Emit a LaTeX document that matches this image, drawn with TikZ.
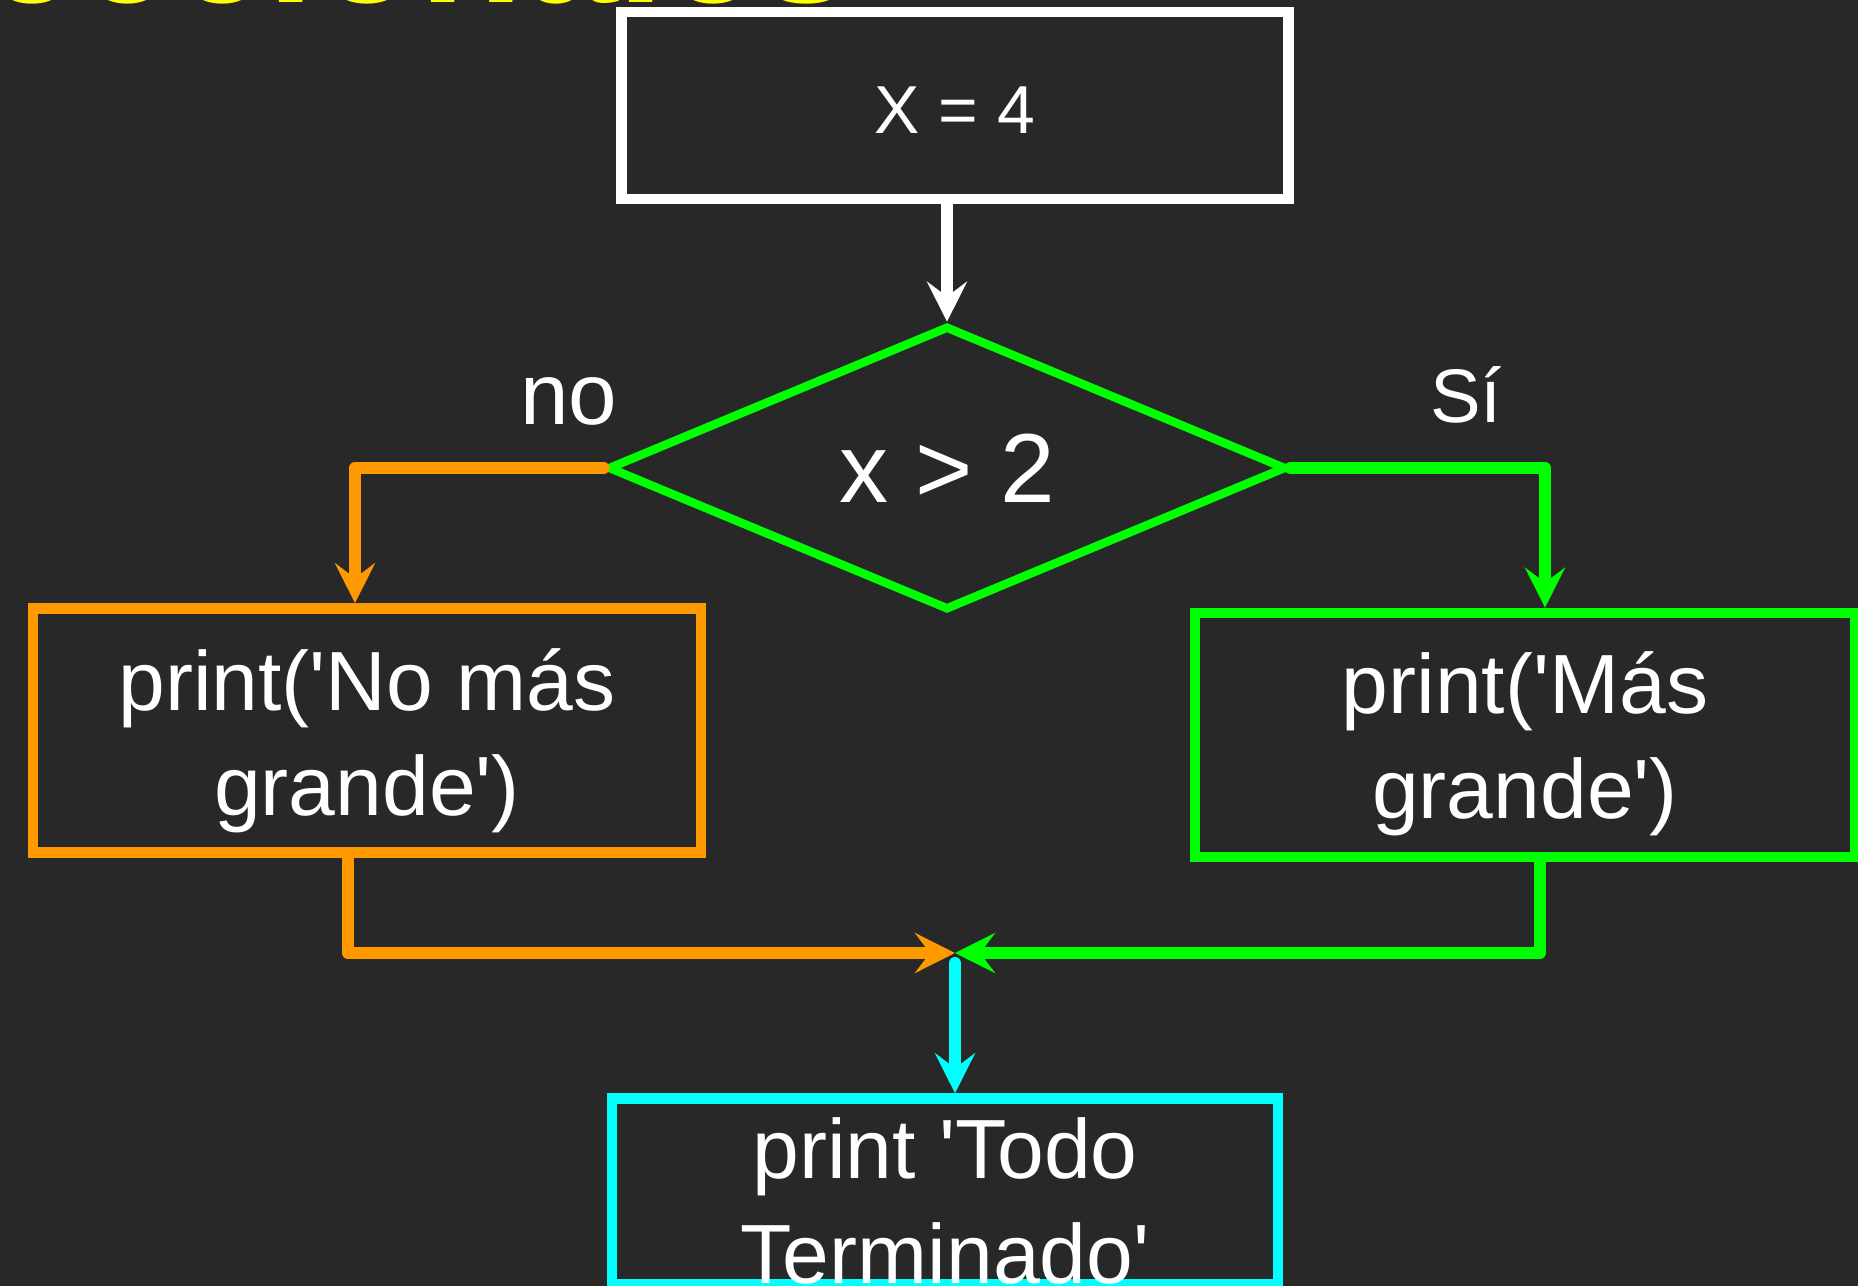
\documentclass[tikz,border=0pt]{standalone}
\usepackage{fontspec}
\setmainfont{Liberation Sans}[Ligatures=TeXOff]
\usetikzlibrary{shapes.geometric,arrows.meta}
\definecolor{fondo}{HTML}{282828}
\definecolor{verde}{HTML}{00FF00}
\definecolor{naranja}{HTML}{FF9900}
\definecolor{cian}{HTML}{00FFFF}
\definecolor{amarillo}{HTML}{FFFF00}
\begin{document}
\begin{tikzpicture}[x=0.01cm, y=-0.01cm,
  every node/.style={text=white, inner sep=0pt},
  box/.style={draw, line width=0.105cm, minimum width=6.68cm, minimum height=2.44cm, align=center, font=\fontsize{23.9}{29.9}\selectfont},
  flow/.style={line width=0.12cm, line cap=round, line join=round, -{Stealth[length=0.4cm, width=0.4cm, inset=0.15cm]}}]
\useasboundingbox (0,0) rectangle (1858,1286);
\fill[fondo] (0,0) rectangle (1858,1286);
\node[anchor=base east, text=amarillo, font=\bfseries\fontsize{48.4}{48.4}\selectfont] (titulo) at (855,3) {Direccionales};
\node[box, draw=white, minimum width=6.67cm, minimum height=1.87cm, font=\fontsize{19.3}{23}\selectfont] (inicio) at (955,105.5) {\rule{0pt}{0.55cm}X = 4};
\node[diamond, draw=verde, line width=0.085cm, minimum width=6.78cm, minimum height=2.84cm, font=\fontsize{27.9}{33}\selectfont] (cond) at (947,468) {x > 2};
\node[anchor=base, font=\fontsize{24.8}{30}\selectfont] (etqno) at (569,425) {no};
\node[anchor=base, font=\fontsize{21.6}{26}\selectfont] (etqsi) at (1466,423) {Sí};
\node[box, draw=naranja] (no) at (367,730.5) {\rule{0pt}{0.82cm}print('No más\\grande')};
\node[box, draw=verde, minimum width=6.6cm] (si) at (1525,735) {\rule{0pt}{0.80cm}print('Más\\grande')};
\node[box, draw=cian, minimum width=6.66cm, minimum height=1.79cm] (fin) at (945,1191.5) {\rule{0pt}{0.80cm}print 'Todo\\Terminado'};
\coordinate (union) at (955,953);

\draw[flow, white] (inicio.south -| cond.north) -- (cond.north);
\draw[flow, naranja] (cond.west) -| ([xshift=-0.12cm]no.north);
\draw[flow, verde] (cond.east) -| ([xshift=0.2cm]si.north);
\draw[flow, naranja] ([xshift=-0.19cm]no.south) |- (union);
\draw[flow, verde] ([xshift=0.15cm]si.south) |- (union);
\draw[flow, cian] ([yshift=-0.1cm]union) -- (union |- fin.north);
\end{tikzpicture}
\end{document}
